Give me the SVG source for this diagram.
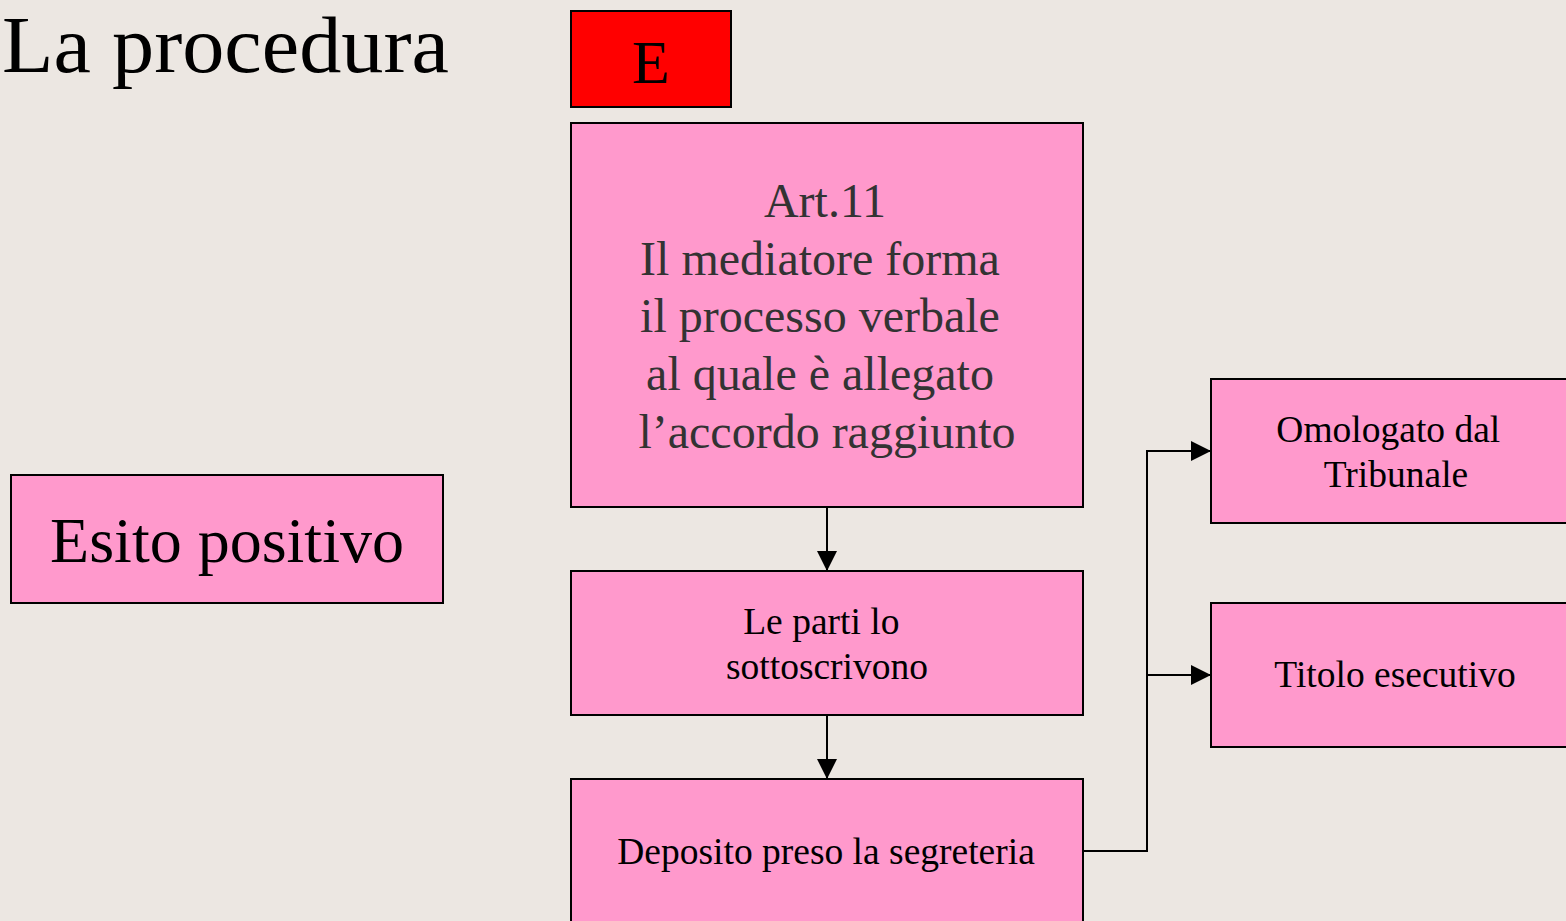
<svg xmlns="http://www.w3.org/2000/svg" width="1566" height="921" viewBox="0 0 1566 921">
<defs>
<style>
.bg{fill:#ECE7E2}
.box{fill:#FF99CC;stroke:#000;stroke-width:2}
.red{fill:#FF0000;stroke:#000;stroke-width:2}
text{font-family:"Liberation Serif","Times New Roman",serif;text-anchor:middle;fill:#000}
.gray{fill:#333333}
.sm{font-size:37.5px}
.conn{fill:none;stroke:#000;stroke-width:2}
</style>
<marker id="arr" viewBox="0 0 20 20" refX="20" refY="10" markerWidth="20" markerHeight="20" markerUnits="userSpaceOnUse" orient="auto">
<path d="M0,0 L20,10 L0,20 Z" fill="#000"/>
</marker>
</defs>
<rect class="bg" x="0" y="0" width="1566" height="921"/>
<g id="title">
<text x="2" y="72" font-size="80.5" textLength="447" lengthAdjust="spacingAndGlyphs" style="text-anchor:start">La procedura</text>
</g>
<g id="node-E">
<rect class="red" x="571" y="11" width="160" height="96"/>
<text x="651" y="83" font-size="62">E</text>
</g>
<g id="node-art11">
<rect class="box" x="571" y="123" width="512" height="384"/>
<text class="gray" font-size="48">
<tspan x="831" y="217">Art.11</tspan>
<tspan x="826" y="275">Il mediatore forma</tspan>
<tspan x="826" y="332">il processo verbale</tspan>
<tspan x="826" y="390">al quale è allegato</tspan>
<tspan x="827" y="448">l’accordo raggiunto</tspan>
</text>
</g>
<g id="node-esito">
<rect class="box" x="11" y="475" width="432" height="128"/>
<text x="227" y="562" font-size="64">Esito positivo</text>
</g>
<g id="node-parti">
<rect class="box" x="571" y="571" width="512" height="144"/>
<text class="sm">
<tspan x="826" y="634">Le parti lo</tspan>
<tspan x="827" y="679">sottoscrivono</tspan>
</text>
</g>
<g id="node-deposito">
<rect class="box" x="571" y="779" width="512" height="160"/>
<text class="sm" x="826" y="864">Deposito preso la segreteria</text>
</g>
<g id="node-omologato">
<rect class="box" x="1211" y="379" width="362" height="144"/>
<text class="sm">
<tspan x="1393" y="442">Omologato dal</tspan>
<tspan x="1396" y="487">Tribunale</tspan>
</text>
</g>
<g id="node-titolo">
<rect class="box" x="1211" y="603" width="362" height="144"/>
<text class="sm" x="1395" y="687">Titolo esecutivo</text>
</g>
<g id="connectors">
<line class="conn" x1="827" y1="507" x2="827" y2="571" marker-end="url(#arr)"/>
<line class="conn" x1="827" y1="715" x2="827" y2="779" marker-end="url(#arr)"/>
<polyline class="conn" points="1083,851 1147,851 1147,451 1211,451" marker-end="url(#arr)"/>
<polyline class="conn" points="1147,675 1211,675" marker-end="url(#arr)"/>
</g>
</svg>
